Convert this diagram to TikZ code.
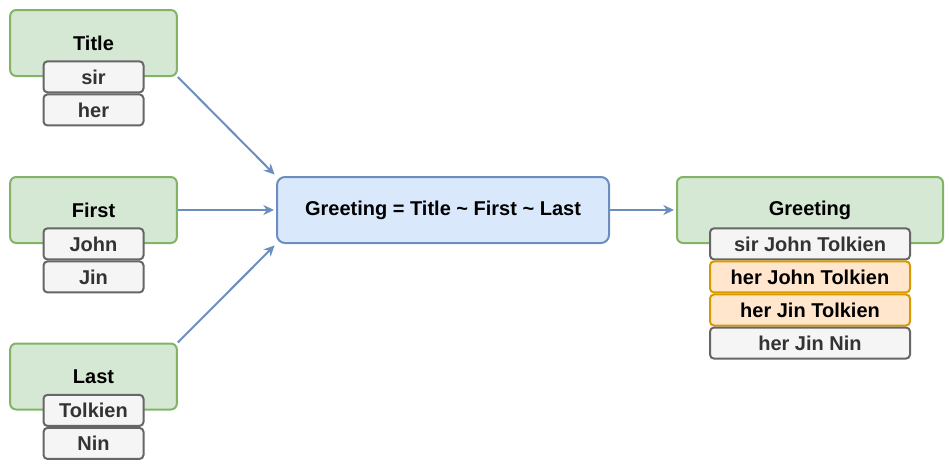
\documentclass[tikz,border=0pt]{standalone}
\usepackage{fontspec}
\setmainfont{Liberation Sans}
\usetikzlibrary{arrows.meta,positioning}
\definecolor{grpfill}{HTML}{D5E8D4}
\definecolor{grpline}{HTML}{82B366}
\definecolor{itmfill}{HTML}{F5F5F5}
\definecolor{itmline}{HTML}{666666}
\definecolor{itmtext}{HTML}{333333}
\definecolor{hitfill}{HTML}{FFE6CC}
\definecolor{hitline}{HTML}{D79B00}
\definecolor{corefill}{HTML}{DAE8FC}
\definecolor{coreline}{HTML}{6C8EBF}

\begin{document}
\begin{tikzpicture}[
  x=0.75pt, y=-0.75pt,
  node distance=0pt,
  every node/.style={font=\fontsize{15}{18}\selectfont\bfseries},
  grp/.style={rectangle, rounded corners=4.5pt, draw=grpline, fill=grpfill, line width=1.5pt, minimum width=125pt, minimum height=49.5pt},
  itm/.style={rectangle, rounded corners=3pt, draw=itmline, fill=itmfill, text=itmtext, line width=1.5pt, minimum width=75pt, minimum height=23.3pt, inner sep=0pt},
  hit/.style={itm, draw=hitline, fill=hitfill, text=black},
  wide/.style={minimum width=150pt},
  core/.style={rectangle, rounded corners=6pt, draw=coreline, fill=corefill, line width=1.5pt, minimum width=249pt, minimum height=49.5pt},
  arr/.style={-{Stealth[length=8pt, width=7.5pt, inset=2.5pt]}, draw=coreline, line width=1.5pt, shorten >=1.5pt}]
\useasboundingbox (0,0) rectangle (949,468);
% inputs
\node[grp] (title) at (93.5,43) {Title};
\node[itm, anchor=north] (sir) at ([yshift=12.5pt]title.south) {sir};
\node[itm, below=of sir] (her) {her};
\node[grp] (first) at (93.5,210) {First};
\node[itm, anchor=north] (john) at ([yshift=12.5pt]first.south) {John};
\node[itm, below=of john] (jin) {Jin};
\node[grp] (last) at (93.5,376.5) {Last};
\node[itm, anchor=north] (tolkien) at ([yshift=12.5pt]last.south) {Tolkien};
\node[itm, below=of tolkien] (nin) {Nin};
% combination
\node[core] (core) at (443,210) {Greeting = Title \char`\~{} First \char`\~{} Last};
% output
\node[grp, minimum width=199.5pt] (greet) at (810,210) {Greeting};
\node[itm, wide, anchor=north] (g1) at ([yshift=12.5pt]greet.south) {sir John Tolkien};
\node[hit, wide, below=of g1] (g2) {her John Tolkien};
\node[hit, wide, below=of g2] (g3) {her Jin Tolkien};
\node[itm, wide, below=of g3] (g4) {her Jin Nin};
\draw[arr] (title.south east) -- (core.north west);
\draw[arr] (first) -- (core);
\draw[arr] (last.north east) -- (core.south west);
\draw[arr] (core) -- (greet);
\end{tikzpicture}
\end{document}
